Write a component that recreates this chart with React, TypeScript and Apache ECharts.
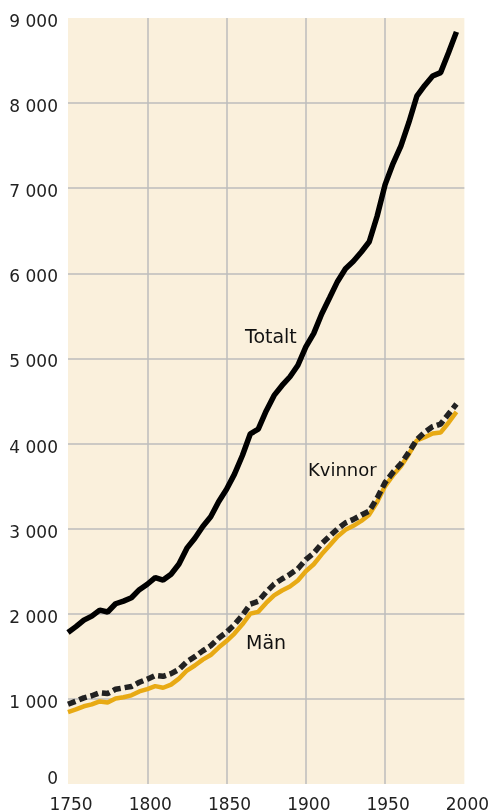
import React, { useEffect, useRef } from "react";
import * as echarts from "echarts";

const years = [
  1750, 1755, 1760, 1765, 1770, 1775, 1780, 1785, 1790, 1795,
  1800, 1805, 1810, 1815, 1820, 1825, 1830, 1835, 1840, 1845,
  1850, 1855, 1860, 1865, 1870, 1875, 1880, 1885, 1890, 1895,
  1900, 1905, 1910, 1915, 1920, 1925, 1930, 1935, 1940, 1945,
  1950, 1955, 1960, 1965, 1970, 1975, 1980, 1985, 1990, 1995,
];

const totalt = [
  1781, 1849, 1925, 1972, 2043, 2021, 2118, 2149, 2188, 2283,
  2347, 2425, 2396, 2465, 2585, 2771, 2888, 3025, 3139, 3316,
  3462, 3641, 3860, 4115, 4169, 4383, 4566, 4683, 4785, 4920,
  5136, 5295, 5522, 5713, 5905, 6054, 6142, 6251, 6371, 6674,
  7042, 7290, 7498, 7773, 8081, 8208, 8318, 8358, 8591, 8837,
];

const kvinnor = [
  937, 973, 1012, 1037, 1073, 1063, 1113, 1130, 1146, 1195,
  1232, 1275, 1265, 1297, 1347, 1438, 1496, 1564, 1624, 1713,
  1783, 1873, 1984, 2113, 2146, 2255, 2349, 2409, 2464, 2529,
  2636, 2713, 2823, 2911, 2998, 3068, 3109, 3160, 3206, 3360,
  3542, 3663, 3764, 3898, 4045, 4133, 4199, 4229, 4347, 4464,
];

const man = [
  844, 876, 913, 935, 970, 958, 1005, 1019, 1042, 1088,
  1115, 1150, 1131, 1168, 1238, 1333, 1392, 1461, 1515, 1603,
  1679, 1768, 1876, 2002, 2023, 2128, 2217, 2274, 2321, 2391,
  2500, 2582, 2699, 2802, 2907, 2986, 3033, 3091, 3165, 3314,
  3500, 3627, 3734, 3875, 4036, 4075, 4119, 4129, 4244, 4373,
];

const seriesNames = ["Män", "Kvinnor", "Totalt"];

const FONT = "DejaVu Sans";

function pairs(vals: number[]) {
  return years.map((y, i) => [y, vals[i]]);
}

export default function App() {
  const ref = useRef<HTMLDivElement>(null);
  useEffect(() => {
    if (!ref.current) return;
    const chart = echarts.init(ref.current, undefined, { renderer: "svg" });
    chart.setOption({
      animation: false,
      grid: {
        left: 68,
        right: 26,
        top: 18,
        bottom: 28,
        show: true,
        backgroundColor: "#FAF0DC",
        borderWidth: 0,
      },
      xAxis: {
        type: "value",
        min: 1750,
        max: 2000,
        interval: 50,
        axisLine: { show: false },
        axisTick: { show: false },
        axisLabel: {
          color: "#222",
          fontFamily: FONT,
          fontSize: 17,
          margin: 11,
          padding: [0, 0, 0, 6],
          formatter: (v: number) => String(v),
        },
        splitLine: {
          show: true,
          showMinLine: false,
          showMaxLine: false,
          lineStyle: { color: "#BDBDBD", width: 1.5 },
        },
      },
      yAxis: {
        type: "value",
        min: 0,
        max: 9000,
        interval: 1000,
        axisLine: { show: false },
        axisTick: { show: false },
        axisLabel: {
          color: "#222",
          fontFamily: FONT,
          fontSize: 17,
          margin: 10,
          formatter: (v: number) =>
            v === 0 ? "{z|0}" : "{n|" + String(v).replace(/\B(?=(\d{3})+(?!\d))/g, " ") + "}",
          rich: {
            n: { color: "#222", fontFamily: FONT, fontSize: 17, padding: [6, 0, 0, 0] },
            z: { color: "#222", fontFamily: FONT, fontSize: 17, padding: [0, 0, 12, 0] },
          },
        },
        splitLine: {
          show: true,
          showMinLine: false,
          showMaxLine: false,
          lineStyle: { color: "#BDBDBD", width: 1.5 },
        },
      },
      series: [
        {
          name: seriesNames[0],
          type: "line",
          data: pairs(man),
          showSymbol: false,
          symbol: "none",
          lineStyle: { color: "#E8AA14", width: 4.5 },
          z: 2,
        },
        {
          name: seriesNames[1],
          type: "line",
          data: pairs(kvinnor),
          showSymbol: false,
          symbol: "none",
          lineStyle: { color: "#222", width: 5.5, type: [8, 4] },
          z: 3,
        },
        {
          name: seriesNames[2],
          type: "line",
          data: pairs(totalt),
          showSymbol: false,
          symbol: "none",
          lineStyle: { color: "#000", width: 5.5 },
          z: 4,
        },
      ],
      graphic: [
        { type: "text", left: 245, top: 326, style: { text: "Totalt", fontFamily: FONT, fontSize: 19, fill: "#111" } },
        { type: "text", left: 308, top: 460, style: { text: "Kvinnor", fontFamily: FONT, fontSize: 18, fill: "#111" } },
        { type: "text", left: 246, top: 632, style: { text: "Män", fontFamily: FONT, fontSize: 19, fill: "#111" } },
      ],
    });
    return () => chart.dispose();
  }, []);
  return (
    <div
      ref={ref}
      style={{ position: "fixed", left: 0, top: 0, width: 492, height: 812 }}
    />
  );
}
